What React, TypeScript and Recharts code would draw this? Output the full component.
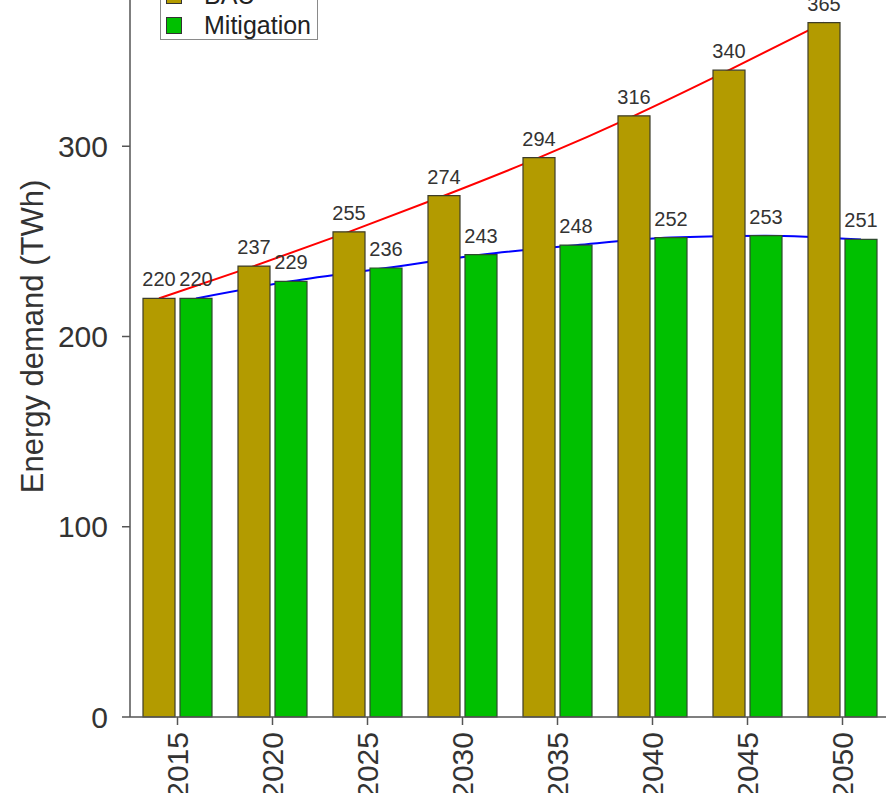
import { Bar, ComposedChart, LabelList, Line, LineChart, XAxis, YAxis } from "recharts";

const years = [2015, 2020, 2025, 2030, 2035, 2040, 2045, 2050];
const bauValues = [220, 237, 255, 274, 294, 316, 340, 365];
const mitigationValues = [220, 229, 236, 243, 248, 252, 253, 251];
const yTicks = [0, 100, 200, 300];

const data = years.map((year, i) => ({
  year,
  bau: bauValues[i],
  mitigation: mitigationValues[i],
}));

const GOLD = "#b39b00";
const GREEN = "#00c000";
const FONT = "'Liberation Sans', Arial, sans-serif";
const Y_DOMAIN: [number, number] = [0, 400];

function YearTick({ x, y, payload }: any) {
  return (
    <g transform={`translate(${x},${y})`}>
      <text
        transform="rotate(-90)"
        textAnchor="end"
        dy="0.36em"
        fontSize={30}
        fill="#333"
        fontFamily={FONT}
      >
        {payload.value}
      </text>
    </g>
  );
}

function LegendBox() {
  const items = [
    { label: "BAU", color: GOLD },
    { label: "Mitigation", color: GREEN },
  ];
  return (
    <div
      style={{
        position: "absolute",
        left: 160,
        top: -21,
        width: 158,
        height: 61,
        boxSizing: "border-box",
        border: "1.5px solid #8a8a8a",
        background: "#fff",
        fontFamily: FONT,
        fontSize: 25,
        color: "#222",
      }}
    >
      {items.map((it) => (
        <div key={it.label} style={{ height: 30, display: "flex", alignItems: "center" }}>
          <span
            style={{
              display: "inline-block",
              width: 14,
              height: 15,
              marginLeft: 5,
              marginRight: 22,
              background: it.color,
              border: "1px solid #333",
            }}
          />
          <span>{it.label}</span>
        </div>
      ))}
    </div>
  );
}

// trend lines sit behind the bars, so they get their own chart underneath
function TrendLines() {
  return (
    <LineChart width={900} height={900} data={data} margin={{ top: 36, right: 10, bottom: 103, left: 130 }}>
      <XAxis
        xAxisId="bau"
        dataKey="year"
        type="number"
        domain={[2015, 2050]}
        padding={{ left: 29, right: 66 }}
        hide
      />
      <XAxis
        xAxisId="mit"
        dataKey="year"
        type="number"
        domain={[2015, 2050]}
        padding={{ left: 66, right: 29 }}
        hide
      />
      <YAxis domain={Y_DOMAIN} hide />
      <Line
        xAxisId="bau"
        dataKey="bau"
        type="monotone"
        stroke="#ff0000"
        strokeWidth={2}
        dot={false}
        isAnimationActive={false}
      />
      <Line
        xAxisId="mit"
        dataKey="mitigation"
        type="monotone"
        stroke="#0000ff"
        strokeWidth={2}
        dot={false}
        isAnimationActive={false}
      />
    </LineChart>
  );
}

function Bars() {
  return (
    <ComposedChart
      width={900}
      height={900}
      data={data}
      margin={{ top: 36, right: 10, bottom: 3, left: 0 }}
      barSize={32}
      barGap={5}
      style={{ fontFamily: FONT }}
    >
      <XAxis
        dataKey="year"
        type="category"
        height={100}
        tickSize={8}
        tickMargin={7}
        tick={<YearTick />}
        axisLine={{ stroke: "#555", strokeWidth: 1.5 }}
        tickLine={{ stroke: "#555", strokeWidth: 1.5 }}
        interval={0}
      />
      <YAxis
        width={130}
        domain={Y_DOMAIN}
        ticks={yTicks}
        tickSize={8}
        tickMargin={14}
        tick={{ fontSize: 30, fill: "#333", fontFamily: FONT }}
        axisLine={{ stroke: "#555", strokeWidth: 1.5 }}
        tickLine={{ stroke: "#555", strokeWidth: 1.5 }}
        label={{
          value: "Energy demand (TWh)",
          angle: -90,
          position: "insideLeft",
          offset: 32,
          style: { textAnchor: "middle", fontSize: 31, fill: "#333", fontFamily: FONT },
        }}
      />
      <Bar dataKey="bau" fill={GOLD} stroke="#3d3d2a" strokeWidth={1.2} isAnimationActive={false}>
        <LabelList dataKey="bau" position="top" offset={12} fill="#333" fontSize={20} fontFamily={FONT} />
      </Bar>
      <Bar dataKey="mitigation" fill={GREEN} stroke="#2e4a2e" strokeWidth={1.2} isAnimationActive={false}>
        <LabelList dataKey="mitigation" position="top" offset={12} fill="#333" fontSize={20} fontFamily={FONT} />
      </Bar>
    </ComposedChart>
  );
}

export default function App() {
  return (
    <div
      style={{
        position: "absolute",
        left: 0,
        top: 0,
        width: 886,
        height: 793,
        overflow: "hidden",
        background: "#fff",
      }}
    >
      <div style={{ position: "absolute", left: 0, top: -80 }}>
        <TrendLines />
      </div>
      <div style={{ position: "absolute", left: 0, top: -80 }}>
        <Bars />
      </div>
      <LegendBox />
    </div>
  );
}
